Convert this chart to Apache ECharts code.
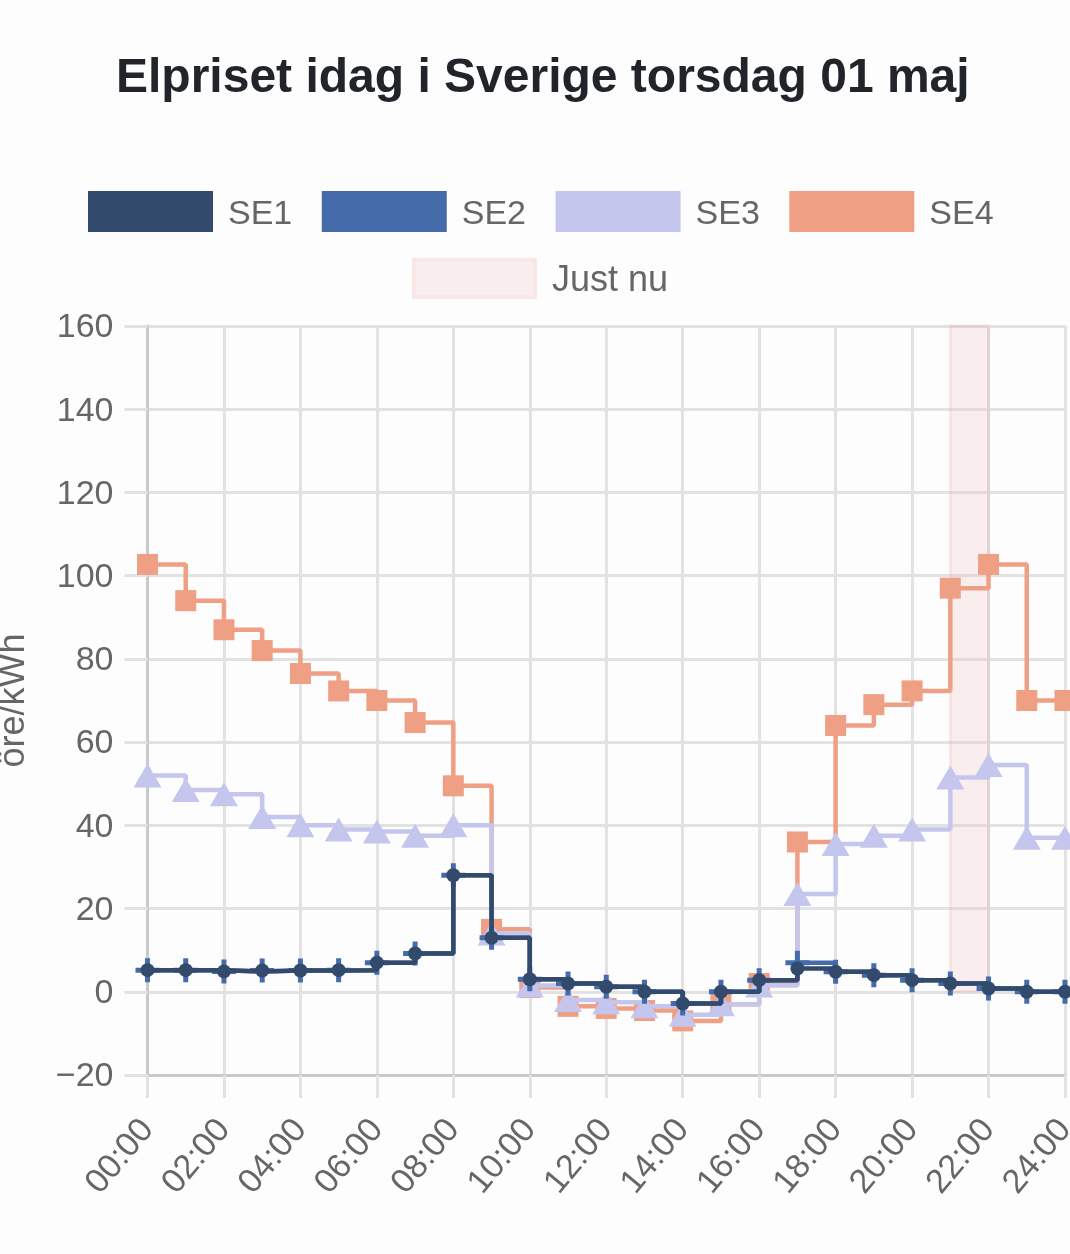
<!DOCTYPE html>
<html>
<head>
<meta charset="utf-8">
<style>
  html, body { margin: 0; padding: 0; background: #fdfdfd; overflow: hidden; }
  #chart { width: 1070px; height: 1254px; }
</style>
<script src="https://cdn.jsdelivr.net/npm/echarts@6/dist/echarts.min.js"></script>
</head>
<body>
<div id="chart"></div>
<script>
var hours = ['00:00','01:00','02:00','03:00','04:00','05:00','06:00','07:00','08:00','09:00','10:00','11:00','12:00',
  '13:00','14:00','15:00','16:00','17:00','18:00','19:00','20:00','21:00','22:00','23:00','24:00'];
var se1 = [5.2,5.2,4.9,5.1,5.1,5.2,7,9.2,28,13,3,2,1.2,0,-2.8,0,2.8,5.6,4.8,4,2.8,2,0.8,0,0];
var se2 = [5.2,5.2,4.9,5.1,5.1,5.2,7,9.2,28,13,3,2,1.2,0,-2.8,0,2.8,7,4.8,4,2.8,2,0.8,0,0];
var se3 = [52,48.5,47.5,42,40,39,38.5,37.5,40,14,1.5,-2,-2.5,-3.5,-5.5,-3,1.5,23.5,35.5,37.5,39,51.5,54.5,37,37];
var se4 = [102.7,94,87,82,76.5,72.3,70,64.7,49.5,15,1,-3.5,-4,-4.5,-7,-3,2,36,64,69,72.3,97,102.7,70,70];
var nowBand = ['21:00', '22:00'];

var labelColor = '#666666';
var gridColor = '#e2e2e2';
var axisColor = '#c9c9c9';
var font = '"Liberation Sans", Helvetica, Arial, sans-serif';
var plusPath = 'path://M9.5 0h5v9.5h9.5v5h-9.5v9.5h-5v-9.5H0v-5h9.5z';

function stepSeries(name, data, color, symbol, size, z) {
  return {
    name: name,
    type: 'line',
    step: 'end',
    data: data,
    z: z,
    symbol: symbol,
    symbolSize: size,
    showAllSymbol: true,
    lineStyle: { color: color, width: 4.5 },
    itemStyle: { color: color }
  };
}

// rich text so the labels can be nudged down a little
function nudged(size, top, left) {
  return { fontFamily: font, fontSize: size, color: labelColor, padding: [top, 0, 0, left] };
}

var chart = echarts.init(document.getElementById('chart'));
chart.setOption({
  animation: false,
  backgroundColor: '#fdfdfd',
  title: {
    text: 'Elpriset idag i Sverige torsdag 01 maj',
    left: 111,
    top: 50,
    textStyle: { fontFamily: font, fontSize: 48, fontWeight: 'bold', color: '#212529' }
  },
  legend: [{
    left: 83, top: 186,
    itemWidth: 125, itemHeight: 41, itemGap: 29.5,
    icon: 'rect',
    data: ['SE1', 'SE2', 'SE3', 'SE4'],
    formatter: '{t|{name}}',
    textStyle: { fontFamily: font, fontSize: 34, color: labelColor, padding: [0, 0, 0, 10], rich: { t: nudged(34, 6, 0) } }
  }, {
    left: 407, top: 253,
    itemWidth: 121, itemHeight: 37,
    data: [{ name: 'Just nu', icon: 'rect', itemStyle: { color: '#faeded', borderColor: '#f9e6e6', borderWidth: 4 } }],
    formatter: '{t|{name}}',
    textStyle: { fontFamily: font, fontSize: 36, color: labelColor, padding: [0, 0, 0, 12], rich: { t: nudged(36, 6, 0) } }
  }],
  grid: { left: 147.5, right: 5, top: 326, bottom: 179, outerBoundsMode: 'none' },
  xAxis: {
    type: 'category',
    boundaryGap: false,
    data: hours,
    axisLine: { onZero: false, lineStyle: { color: axisColor, width: 3 } },
    axisTick: { interval: 1, length: 23, lineStyle: { color: gridColor, width: 3 } },
    splitLine: { show: true, interval: 1, lineStyle: { color: gridColor, width: 3 } },
    axisLabel: { interval: 1, rotate: 50, margin: 49, fontFamily: font, fontSize: 34, color: labelColor, hideOverlap: false }
  },
  yAxis: {
    type: 'value',
    min: -20, max: 160, interval: 20,
    name: 'öre/kWh',
    nameLocation: 'middle',
    nameGap: 115,
    nameRotate: 90,
    nameTextStyle: { fontFamily: font, fontSize: 36, color: labelColor },
    axisLine: { show: true, lineStyle: { color: axisColor, width: 3 } },
    axisTick: { show: true, length: 23, lineStyle: { color: gridColor, width: 3 } },
    splitLine: { show: true, lineStyle: { color: gridColor, width: 3 } },
    axisLabel: {
      margin: 34, fontFamily: font, fontSize: 34, color: labelColor,
      rich: { t: nudged(34, 4, 0) },
      formatter: function (v) { return '{t|' + String(v).replace('-', '\u2212') + '}'; }
    }
  },
  series: [
    stepSeries('SE1', se1, '#324a6c', 'circle', 14, 8),
    stepSeries('SE2', se2, '#456baa', plusPath, 24, 7),
    stepSeries('SE3', se3, '#c4c6ee', 'triangle', [28, 24], 6),
    stepSeries('SE4', se4, '#ef9f84', 'rect', 21, 5),
    {
      name: 'Just nu',
      type: 'line',
      data: [],
      z: 9,
      itemStyle: { color: '#faeded' },
      markArea: {
        silent: true,
        itemStyle: { color: 'rgba(240,190,190,0.25)', borderColor: 'rgba(225,170,170,0.2)', borderWidth: 3 },
        data: [[{ xAxis: nowBand[0], yAxis: 0 }, { xAxis: nowBand[1], yAxis: 160 }]]
      }
    }
  ]
});
</script>
</body>
</html>
